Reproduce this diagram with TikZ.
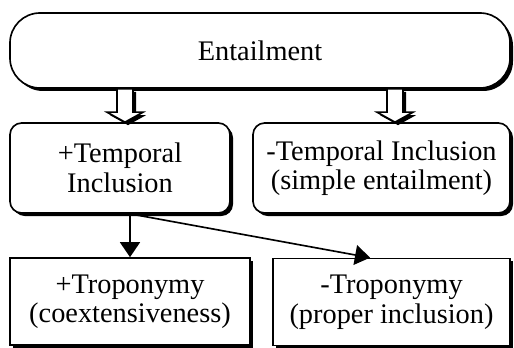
\documentclass[tikz,border=0pt]{standalone}
\usepackage{fontspec}
\setmainfont{Liberation Serif}
\usetikzlibrary{arrows.meta,shadows,calc}
\tikzset{
  sombra/.style={drop shadow={shadow xshift=0.09cm, shadow yshift=-0.09cm, fill=black, opacity=1}},
  caja/.style={draw, line width=1.4pt, fill=white, align=center, inner sep=0pt, sombra},
  redonda/.style={caja, rounded corners=0.35cm},
  hueca/.style={draw, line width=1.4pt, fill=white, sombra}
}
\begin{document}
\begin{tikzpicture}[x=0.03cm, y=-0.03cm, >={Triangle[length=0.45cm,width=0.6cm]},
    font=\fontsize{24.2}{25.2}\selectfont]
  \useasboundingbox (0,0) rectangle (514,348);
  % nivel superior
  \node[caja, rounded corners=0.9cm, minimum width=15cm, minimum height=2.25cm]
    (ent) at (260,50.5) {Entailment};
  % nivel medio
  \node[redonda, minimum width=6.6cm, minimum height=2.7cm]
    (tin) at (120,168) {+Temporal\\Inclusion};
  \node[redonda, minimum width=7.71cm, minimum height=2.7cm]
    (sim) at (381.5,168) {-Temporal Inclusion\\(simple entailment)};
  % nivel inferior
  \node[caja, minimum width=7.2cm, minimum height=2.61cm]
    (tro) at (130,301.5) {+Troponymy\\(coextensiveness)};
  \node[caja, minimum width=7.11cm, minimum height=2.61cm]
    (ptro) at (391.5,302) {-Troponymy\\(proper inclusion)};
  % flechas huecas
  \path (125,0) coordinate (lx) (395,0) coordinate (rx);
  \foreach \c/\b in {lx/tin, rx/sim}
    \draw[hueca] ($(ent.south -| \c)+(-8,0)$) -- ($(\b.north -| \c)+(-8,-10)$)
      -- ($(\b.north -| \c)+(-18,-10)$) -- (\b.north -| \c)
      -- ($(\b.north -| \c)+(18,-10)$) -- ($(\b.north -| \c)+(8,-10)$)
      -- ($(ent.south -| \c)+(8,0)$) -- cycle;
  % flechas finas
  \coordinate (sal) at (tin.south -| tro.north);
  \draw[->, line width=1.4pt] (sal) -- (tro.north);
  \draw[->, line width=1.4pt] (sal) -- ($(ptro.north west)!0.41!(ptro.north east)$);
\end{tikzpicture}
\end{document}
